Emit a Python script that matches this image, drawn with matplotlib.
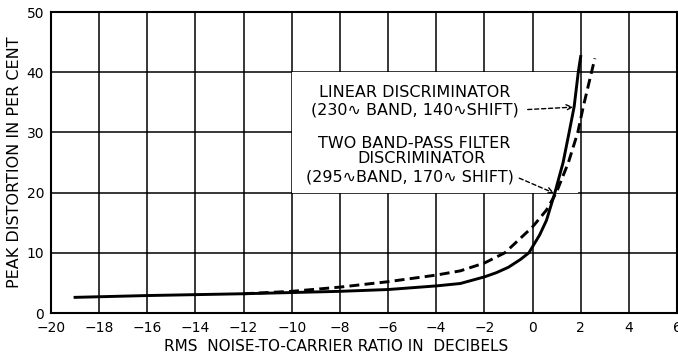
import matplotlib
matplotlib.use("Agg")
import matplotlib.pyplot as plt
from matplotlib.patches import Rectangle

# linear discriminator (solid)
lin_x = [-19, -16, -12, -10, -8, -6, -4, -3, -2, -1.5, -1, -0.5, -0.15, 0, 0.3, 0.58, 0.93, 1.27, 1.52, 1.73, 1.90, 2.0]
lin_y = [2.6, 2.9, 3.2, 3.4, 3.6, 3.9, 4.5, 4.9, 6.0, 6.7, 7.6, 8.9, 10.0, 11.0, 13.0, 15.4, 20, 25, 30, 34.3, 40, 42.6]

# two band-pass filter discriminator (dashed)
bp_x = [-12, -10, -8, -6, -4, -3, -2, -1.15, -0.8, 0, 0.58, 0.99, 1.49, 1.88, 2.11, 2.45, 2.59]
bp_y = [3.2, 3.6, 4.3, 5.2, 6.3, 7.0, 8.3, 10.0, 11.3, 14.3, 17.1, 20, 25, 30, 34.3, 40, 42.3]

xticks = list(range(-20, 7, 2))
yticks = [0, 10, 20, 30, 40, 50]

plt.rcParams["font.family"] = "DejaVu Sans"
fig = plt.figure(figsize=(6.78, 3.53), dpi=100)
ax = fig.add_axes([0.0752, 0.1133, 0.9233, 0.8527])

ax.set_xlim(-20, 6)
ax.set_ylim(0, 50)
ax.set_xticks(xticks)
ax.set_yticks(yticks)
ax.set_xticklabels([str(t).replace("-", "\u2212") for t in xticks], fontsize=10)
ax.set_yticklabels([str(t) for t in yticks], fontsize=10)
ax.tick_params(axis="x", length=0, pad=6)
ax.tick_params(axis="y", length=0, pad=5)
ax.grid(True, color="black", linewidth=1.1)
ax.set_axisbelow(True)
for s in ax.spines.values():
    s.set_linewidth(1.5)

# white label area hiding the grid
ax.add_patch(Rectangle((-10, 20), 11.9, 20, facecolor="white", edgecolor="none", zorder=1))

ax.plot(lin_x, lin_y, color="black", linewidth=2.1, zorder=3)
ax.plot(bp_x, bp_y, color="black", linewidth=2.1, linestyle=(0, (3.4, 1.8)), zorder=3)

txt = dict(fontsize=11.5, ha="center", va="center", zorder=4)
ax.text(-4.9, 36.7, "LINEAR DISCRIMINATOR", **txt)
ax.text(-4.9, 33.7, "(230\u223f BAND, 140\u223fSHIFT)", **txt)
ax.text(-4.9, 28.2, "TWO BAND-PASS FILTER", **txt)
ax.text(-4.6, 25.6, "DISCRIMINATOR", **txt)
ax.text(-5.1, 22.6, "(295\u223fBAND, 170\u223f SHIFT)", **txt)

arrow = dict(arrowstyle="->", linestyle=(0, (3, 2)), color="black", linewidth=1.0,
             shrinkA=0, shrinkB=0)
ax.annotate("", xy=(1.69, 34.2), xytext=(-0.2, 33.8), arrowprops=arrow, zorder=4)
ax.annotate("", xy=(0.9, 19.9), xytext=(-0.55, 22.4), arrowprops=arrow, zorder=4)

ax.set_xlabel("RMS  NOISE-TO-CARRIER RATIO IN  DECIBELS", fontsize=11)
ax.xaxis.set_label_coords(0.456, -0.088)
ax.set_ylabel("PEAK DISTORTION IN PER CENT", fontsize=11.5, labelpad=3)

fig.savefig("out.png", dpi=100)
